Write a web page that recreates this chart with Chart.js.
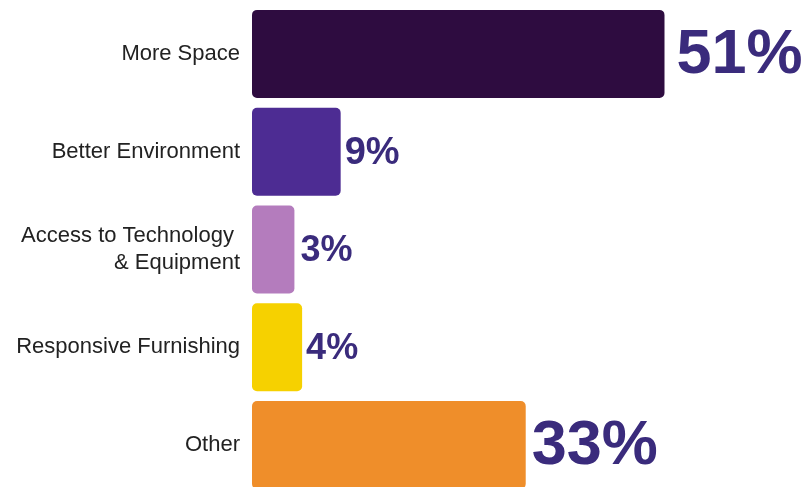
<!DOCTYPE html>
<html>
<head>
<meta charset="utf-8">
<script src="https://cdn.jsdelivr.net/npm/chart.js@4.4.1/dist/chart.umd.min.js"></script>
<style>
  html, body { margin: 0; padding: 0; background: #ffffff; overflow: hidden; }
  #wrap { position: relative; width: 811px; height: 500px; }
</style>
</head>
<body>
<div id="wrap"><canvas id="myChart"></canvas></div>
<script>
// categories and answer shares (%)
const categories = [
  'More Space',
  'Better Environment',
  ['Access to Technology ', '& Equipment'],
  'Responsive Furnishing',
  'Other',
];
const shares = [51, 9, 3, 4, 33];
const barColors = ['#2e0c40', '#4d2c93', '#b47cbd', '#f6d100', '#ef8e2a'];

// size and gap of the % label next to each bar
const labelSizes = [63, 38, 36, 36, 63];
const labelGaps = [12, 4, 6, 4, 6];

// draws "51%" etc. to the right of each bar
const valueLabels = {
  id: 'valueLabels',
  afterDatasetsDraw(chart) {
    const ctx = chart.ctx;
    const meta = chart.getDatasetMeta(0);
    ctx.save();
    ctx.fillStyle = '#3a2b7c';
    ctx.textAlign = 'left';
    ctx.textBaseline = 'middle';
    meta.data.forEach((bar, i) => {
      ctx.font = 'bold ' + labelSizes[i] + 'px "Liberation Sans", Arial, sans-serif';
      ctx.fillText(shares[i] + '%', bar.x + labelGaps[i], bar.y + 2);
    });
    ctx.restore();
  },
};

const data = {
  labels: categories,
  datasets: [
    {
      data: shares,
      backgroundColor: barColors,
      borderWidth: 0,
      borderRadius: 5,
      borderSkipped: false,
      base: -2.5, // 小さい値でも棒が見えるように
      categoryPercentage: 1,
      barPercentage: 0.9,
    },
  ],
};

const config = {
  type: 'bar',
  data: data,
  options: {
    indexAxis: 'y',
    responsive: true,
    maintainAspectRatio: false,
    animation: false,
    layout: {
      padding: { top: 5, bottom: 6, left: 0, right: 0 },
    },
    scales: {
      x: {
        display: false,
        min: -2.5,
        max: 70,
      },
      y: {
        grid: { display: false, drawTicks: false },
        border: { display: false },
        afterFit(scale) {
          scale.width = 252;
          scale.paddingTop = 0;
          scale.paddingBottom = 0;
        },
        ticks: {
          padding: 12,
          color: '#222222',
          font: {
            family: '"Liberation Sans", Arial, sans-serif',
            size: 22,
            lineHeight: 1.2,
          },
        },
      },
    },
    plugins: {
      legend: { display: false },
      tooltip: { enabled: false },
    },
  },
  plugins: [valueLabels],
};

const myChart = new Chart(document.getElementById('myChart'), config);
</script>
</body>
</html>
